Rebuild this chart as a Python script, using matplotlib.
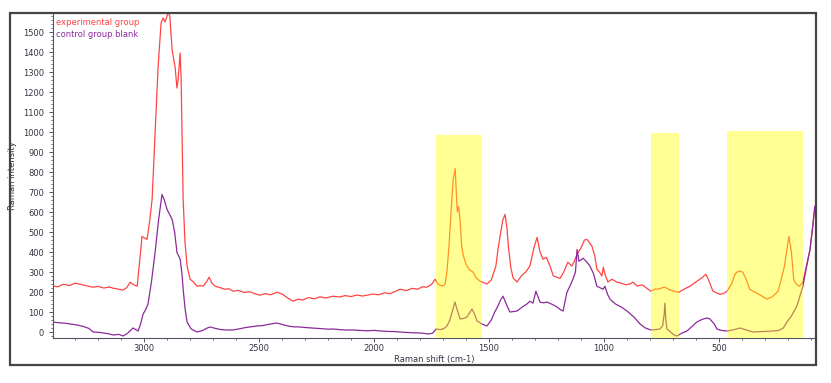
import matplotlib
matplotlib.use("Agg")
import matplotlib.pyplot as plt
from matplotlib.patches import Rectangle
from matplotlib.ticker import MultipleLocator

# experimental group (red): (Raman shift, intensity)
exp_points = [
    (3396, 230), (3375, 226), (3350, 239), (3325, 232), (3300, 244), (3275, 238),
    (3250, 231), (3222, 224), (3200, 228), (3175, 220), (3150, 225), (3135, 219),
    (3110, 214), (3091, 209), (3075, 222), (3061, 249), (3045, 236), (3030, 229),
    (3017, 379), (3009, 478), (2998, 470), (2987, 463), (2975, 560), (2965, 663),
    (2952, 996), (2939, 1325), (2926, 1545), (2917, 1570), (2909, 1550), (2896, 1595),
    (2888, 1580), (2878, 1410), (2865, 1325), (2857, 1220), (2852, 1260), (2843, 1395),
    (2839, 1275), (2835, 996), (2830, 663), (2822, 450), (2813, 330), (2800, 264),
    (2785, 250), (2770, 229), (2755, 232), (2743, 229), (2730, 248), (2717, 274),
    (2705, 245), (2691, 229), (2670, 222), (2650, 214), (2630, 216), (2613, 204),
    (2590, 208), (2565, 198), (2540, 201), (2520, 192), (2496, 184), (2475, 192),
    (2450, 186), (2422, 199), (2400, 190), (2375, 170), (2352, 154), (2330, 164),
    (2310, 160), (2285, 172), (2260, 166), (2235, 176), (2210, 170), (2178, 179),
    (2150, 175), (2125, 182), (2100, 177), (2075, 185), (2050, 180), (2030, 184),
    (2005, 190), (1980, 186), (1955, 196), (1930, 192), (1905, 204), (1887, 214),
    (1860, 207), (1835, 218), (1810, 214), (1790, 226), (1770, 224), (1750, 238),
    (1735, 264), (1722, 240), (1713, 234), (1700, 230), (1691, 239), (1683, 300),
    (1674, 430), (1665, 600), (1656, 760), (1647, 817), (1642, 700), (1638, 600),
    (1632, 628), (1626, 560), (1619, 430), (1612, 383), (1600, 340), (1585, 310),
    (1570, 300), (1555, 270), (1539, 254), (1525, 248), (1509, 240), (1490, 260),
    (1470, 330), (1460, 420), (1452, 478), (1440, 560), (1430, 588), (1422, 520),
    (1415, 420), (1405, 320), (1395, 270), (1378, 250), (1360, 280), (1340, 300),
    (1322, 330), (1305, 420), (1291, 473), (1278, 400), (1265, 364), (1250, 373),
    (1235, 330), (1220, 280), (1205, 274), (1191, 268), (1175, 300), (1157, 349),
    (1140, 330), (1130, 350), (1117, 389), (1100, 420), (1085, 460), (1074, 463),
    (1062, 445), (1052, 428), (1040, 380), (1031, 314), (1020, 300), (1009, 280),
    (1003, 324), (996, 290), (983, 250), (965, 264), (945, 250), (925, 244),
    (905, 236), (887, 240), (874, 249), (855, 230), (835, 236), (815, 220),
    (796, 204), (780, 214), (760, 215), (745, 222), (735, 224), (720, 214),
    (700, 205), (674, 199), (650, 215), (625, 230), (600, 250), (583, 264),
    (570, 275), (557, 289), (545, 260), (526, 204), (510, 195), (496, 189),
    (480, 192), (465, 204), (445, 240), (430, 290), (422, 299), (410, 305),
    (396, 299), (380, 260), (367, 214), (345, 200), (320, 185), (291, 164),
    (270, 175), (255, 190), (243, 204), (230, 260), (215, 330), (196, 478),
    (185, 400), (175, 264), (165, 240), (150, 229), (135, 250), (120, 330),
    (104, 413), (93, 520), (83, 628),
]

# control group blank (purple)
ctl_points = [
    (3396, 50), (3370, 46), (3345, 44), (3320, 40), (3291, 35), (3265, 28),
    (3240, 18), (3222, 0), (3195, -2), (3170, -6), (3150, -10), (3135, -15),
    (3110, -12), (3091, -20), (3070, -5), (3048, 20), (3036, 12), (3026, 5),
    (3015, 40), (3004, 90), (2994, 110), (2983, 139), (2968, 250), (2952, 398),
    (2937, 560), (2922, 688), (2912, 660), (2900, 613), (2890, 590), (2878, 563),
    (2867, 500), (2857, 398), (2843, 364), (2836, 300), (2830, 214), (2822, 120),
    (2813, 50), (2795, 15), (2770, 0), (2745, 8), (2725, 20), (2713, 25),
    (2690, 18), (2665, 12), (2640, 10), (2613, 10), (2585, 16), (2560, 22),
    (2535, 26), (2510, 30), (2485, 32), (2460, 38), (2440, 42), (2422, 45),
    (2400, 38), (2375, 30), (2350, 26), (2322, 25), (2295, 22), (2270, 20),
    (2245, 18), (2220, 16), (2195, 14), (2178, 15), (2150, 12), (2120, 10),
    (2090, 10), (2060, 8), (2030, 6), (2000, 8), (1970, 5), (1940, 3),
    (1910, 2), (1887, 0), (1860, -2), (1830, -4), (1800, -5), (1780, -7),
    (1765, -10), (1745, -6), (1730, 15), (1710, 12), (1695, 18), (1683, 30),
    (1670, 60), (1658, 110), (1648, 150), (1638, 110), (1626, 65), (1610, 68),
    (1596, 75), (1585, 95), (1574, 115), (1563, 90), (1552, 55), (1530, 40),
    (1509, 30), (1490, 60), (1475, 100), (1461, 130), (1450, 160), (1439, 179),
    (1425, 140), (1409, 100), (1395, 102), (1378, 105), (1355, 125), (1335, 140),
    (1322, 154), (1309, 144), (1296, 204), (1278, 149), (1262, 146), (1248, 150),
    (1225, 138), (1204, 125), (1190, 112), (1178, 105), (1170, 150), (1161, 199),
    (1148, 230), (1135, 264), (1124, 300), (1117, 413), (1109, 354), (1100, 360),
    (1091, 369), (1075, 350), (1061, 330), (1045, 290), (1031, 229), (1015, 220),
    (1004, 214), (996, 229), (985, 190), (974, 164), (950, 140), (925, 125),
    (900, 105), (870, 75), (843, 40), (820, 20), (796, 10), (775, 12),
    (757, 15), (745, 30), (738, 90), (735, 144), (731, 60), (726, 15),
    (710, 0), (695, -15), (683, -20), (660, -5), (639, 5), (620, 25),
    (596, 50), (575, 62), (553, 70), (540, 66), (532, 55), (520, 40),
    (509, 15), (490, 8), (465, 5), (440, 10), (409, 20), (380, 10),
    (352, 0), (320, 2), (290, 4), (265, 5), (240, 8), (220, 20),
    (204, 50), (185, 80), (161, 130), (148, 180), (135, 229), (120, 320),
    (104, 413), (93, 520), (83, 628),
]

# highlighted bands: (high shift, low shift, top)
bands = [(1730, 1530, 985), (796, 674, 995), (465, 135, 1005)]

exp_shift, exp_int = zip(*exp_points)
ctl_shift, ctl_int = zip(*ctl_points)

fig = plt.figure(figsize=(8.31, 3.83), dpi=100)
ax = fig.add_axes([53 / 831, 1 - 338 / 383, (816 - 53) / 831, (338 - 13) / 383])

ax.plot(exp_shift, exp_int, color="#ff4444", lw=0.9, label="experimental group")
ax.plot(ctl_shift, ctl_int, color="#8b2a9b", lw=0.9, label="control group blank")

for hi, lo, top in bands:
    ax.fill_between([lo, hi], -30, top, color="#ffff00", alpha=0.42, lw=0, zorder=3)

ax.set_xlim(3396, 78)
ax.set_ylim(-30, 1595)
ax.xaxis.set_minor_locator(MultipleLocator(100))
ax.yaxis.set_minor_locator(MultipleLocator(20))
ax.set_xticks([3000, 2500, 2000, 1500, 1000, 500])
ax.set_yticks(range(0, 1501, 100))

for s in ["top", "right"]:
    ax.spines[s].set_visible(False)
for s in ["left", "bottom"]:
    ax.spines[s].set_color("#555566")
    ax.spines[s].set_linewidth(0.8)
ax.spines["left"].set_linestyle((0, (1, 1)))

ax.tick_params(which="major", length=3, width=0.7, colors="#555566",
               labelsize=6, labelcolor="#333344")
ax.tick_params(which="minor", length=1.5, width=0.6, colors="#555566")
ax.tick_params(axis="x", which="major", pad=1.5)

ax.set_xlabel("Raman shift (cm-1)", fontsize=6, color="#333344", labelpad=1)
ax.set_ylabel("Raman intensity", fontsize=6, color="#333344", labelpad=2)
ax.yaxis.set_label_coords(-0.047, 0.5)

ax.text(0.004, 0.985, "experimental group", transform=ax.transAxes, fontsize=6,
        color="#ff4444", va="top", ha="left")
ax.text(0.004, 0.948, "control group blank", transform=ax.transAxes, fontsize=6,
        color="#8b2a9b", va="top", ha="left")

frame = Rectangle((10 / 831, 1 - 365 / 383), (816 - 10) / 831, (365 - 13) / 383,
                  transform=fig.transFigure, fill=False, edgecolor="#444444", lw=1.6)
fig.patches.append(frame)

fig.savefig("out.png", dpi=100)
